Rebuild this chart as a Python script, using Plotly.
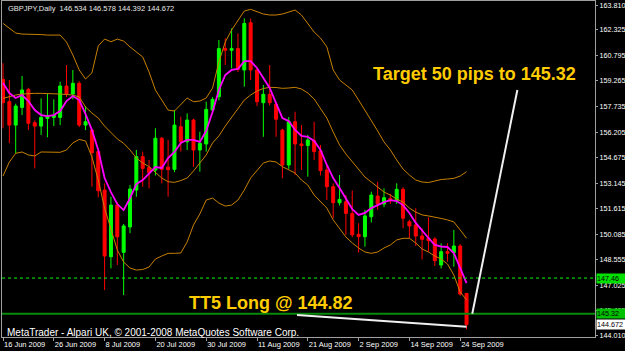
import plotly.graph_objects as go
import pandas as pd

# ---------------- data ----------------
dates = [d for d in pd.bdate_range("2009-06-16", "2009-09-25")]
open_ = [159.36, 158.02, 156.62, 157.68, 158.76, 156.76, 156.56, 157.02, 157.08, 157.08,
         158.96, 158.48, 159.12, 156.62, 156.32, 155.03, 152.73, 148.74, 151.83, 149.00,
         150.52, 152.73, 154.73, 154.07, 153.93, 155.83, 154.10, 153.97, 156.52, 155.62,
         156.92, 155.13, 155.49, 157.52, 158.32, 161.20, 161.10, 161.20, 159.92, 162.75,
         159.92, 157.96, 158.46, 157.86, 156.32, 154.23, 156.82, 155.49, 155.39, 155.68,
         155.08, 153.93, 152.93, 151.97, 152.03, 151.33, 150.08, 149.94, 151.13, 152.37,
         151.89, 152.23, 152.09, 152.77, 150.83, 150.64, 149.98, 149.84, 149.80, 148.24,
         149.04, 148.98, 149.38, 146.534]
high = [160.32, 159.32, 157.90, 159.56, 158.85, 156.90, 158.22, 158.48, 158.16, 159.22,
        160.22, 159.92, 159.25, 157.76, 156.40, 155.10, 153.13, 152.33, 152.00, 150.70,
        153.03, 155.13, 155.03, 154.53, 156.43, 155.90, 155.73, 157.52, 157.12, 157.32,
        157.00, 156.22, 158.02, 158.30, 161.71, 161.82, 162.41, 162.11, 163.01, 163.00,
        160.00, 159.02, 160.22, 158.00, 156.40, 157.10, 157.42, 156.62, 156.03, 156.82,
        155.43, 154.20, 153.13, 153.63, 152.43, 152.70, 150.74, 151.54, 152.63, 153.23,
        152.83, 152.50, 153.13, 152.90, 150.95, 151.64, 150.44, 151.10, 149.90, 149.54,
        149.54, 150.34, 149.50, 146.578]
low = [156.43, 155.53, 154.93, 157.22, 156.32, 154.03, 156.03, 155.89, 156.56, 156.62,
       158.30, 158.16, 156.50, 156.32, 152.93, 152.30, 146.74, 148.04, 148.24, 146.44,
       150.15, 152.33, 152.93, 152.83, 153.60, 153.13, 152.33, 153.80, 155.03, 155.13,
       154.13, 153.83, 155.03, 157.30, 158.10, 160.22, 160.02, 159.80, 158.92, 159.32,
       157.76, 155.92, 157.80, 155.92, 153.43, 154.00, 153.63, 153.93, 153.53, 154.53,
       153.60, 152.13, 151.04, 151.80, 150.05, 149.90, 148.98, 149.34, 150.79, 151.54,
       151.70, 151.90, 151.90, 150.44, 149.84, 149.38, 148.58, 149.04, 148.18, 148.04,
       148.44, 148.14, 146.40, 144.392]
close = [157.96, 156.62, 157.76, 158.72, 156.73, 156.56, 157.08, 157.18, 157.22, 158.96,
         158.48, 159.12, 156.62, 156.82, 154.97, 152.69, 148.78, 151.83, 149.93, 150.58,
         152.79, 154.73, 154.03, 153.77, 155.83, 153.97, 153.95, 156.62, 155.62, 156.92,
         155.13, 155.53, 157.56, 158.16, 161.20, 161.10, 161.20, 159.96, 162.71, 159.92,
         158.02, 158.46, 157.96, 156.97, 154.23, 156.82, 155.49, 155.39, 155.73, 155.03,
         153.89, 152.93, 151.97, 152.17, 151.33, 150.05, 149.94, 151.18, 152.43, 151.89,
         152.27, 152.09, 152.77, 151.04, 150.58, 149.98, 149.78, 149.70, 148.50, 149.04,
         148.94, 149.38, 146.50, 144.672]
bb_upper = [162.71, 162.43, 162.13, 162.07, 162.07, 162.04, 162.04, 162.01, 162.01, 162.01,
            161.59, 160.82, 159.92, 159.38, 159.74, 161.36, 161.77, 161.61, 161.77, 161.65,
            161.30, 161.00, 160.70, 159.80, 158.72, 158.12, 157.52, 157.46, 157.88, 158.24,
            158.02, 158.06, 158.24, 158.84, 160.40, 161.59, 162.31, 162.91, 163.45, 163.55,
            163.39, 163.27, 163.21, 163.21, 163.27, 163.41, 163.51, 163.21, 162.73, 162.19,
            161.83, 161.30, 159.92, 159.32, 159.02, 158.72, 158.12, 157.52, 156.92, 156.27,
            155.61, 155.13, 154.53, 153.99, 153.63, 153.33, 153.21, 153.18, 153.27, 153.36,
            153.39, 153.43, 153.57, 153.83]
bb_middle = [158.22, 158.33, 158.42, 158.48, 158.51, 158.52, 158.52, 158.52, 158.51, 158.48,
             158.45, 158.42, 158.30, 157.70, 157.34, 157.04, 156.56, 156.15, 155.79, 155.53,
             155.13, 154.65, 154.35, 154.13, 153.81, 153.45, 153.23, 153.19, 153.30, 153.45,
             153.87, 154.35, 154.83, 155.55, 155.97, 156.56, 157.10, 157.64, 158.12, 158.42,
             158.66, 158.81, 158.88, 158.87, 158.82, 158.84, 158.88, 158.78, 158.54, 158.18,
             157.64, 157.04, 156.20, 155.43, 154.89, 154.41, 153.93, 153.51, 153.21, 152.91,
             152.61, 152.43, 152.19, 152.01, 151.65, 151.41, 151.24, 151.18, 151.12, 151.03,
             150.94, 150.82, 150.34, 149.84]
bb_lower = [153.57, 154.41, 154.93, 155.01, 154.83, 154.77, 155.01, 155.01, 154.99, 154.99,
            155.13, 155.55, 155.76, 155.67, 154.71, 153.33, 151.65, 150.34, 149.14, 148.42,
            148.06, 147.94, 147.97, 148.12, 148.60, 148.78, 148.94, 148.94, 148.96, 149.62,
            150.64, 151.30, 152.13, 152.25, 151.95, 151.77, 151.83, 152.13, 152.73, 153.45,
            153.93, 154.35, 154.47, 154.41, 154.13, 153.93, 153.75, 153.33, 153.03, 152.43,
            152.07, 151.65, 150.94, 150.46, 149.92, 149.56, 149.26, 149.02, 148.94, 149.02,
            149.26, 149.44, 149.74, 149.84, 149.84, 149.56, 149.20, 149.02, 148.78, 148.60,
            148.30, 147.64, 146.62, 146.15]
ma_fast = [159.14, 158.54, 158.24, 158.42, 158.06, 157.52, 157.22, 157.16, 157.22, 157.46,
           158.06, 158.36, 158.12, 157.28, 156.33, 155.13, 153.45, 152.61, 151.89, 151.53,
           152.25, 153.09, 153.33, 153.69, 154.11, 154.05, 154.65, 155.01, 155.55, 155.73,
           155.73, 155.61, 156.27, 157.40, 158.72, 159.62, 159.92, 159.98, 160.45, 160.45,
           160.04, 159.44, 158.84, 157.94, 157.04, 156.86, 156.33, 155.97, 155.91, 155.67,
           155.13, 154.23, 153.45, 152.85, 152.19, 151.59, 151.24, 151.36, 151.65, 151.83,
           152.01, 152.13, 152.07, 151.83, 151.36, 150.76, 150.28, 149.86, 149.44, 149.35,
           149.32, 148.96, 148.06, 147.16]

tick_idx = [0, 8, 16, 24, 32, 40, 48, 56, 64, 72]
y_ticks = [163.810, 162.325, 160.795, 159.265, 157.735, 156.205, 154.675, 153.145,
           151.615, 150.085, 148.555, 147.025, 145.495, 144.010]

entry_level = 147.46
target_level = 145.32
last_price = 144.672
target_line = ([73.9, 81.0], [145.32, 158.72])
low_line = ([46.3, 73.0], [145.25, 144.55])

symbol_text = "GBPJPY,Daily  146.534 146.578 144.392 144.672"
copyright_text = "MetaTrader - Alpari UK, \u00a9 2001-2008 MetaQuotes Software Corp."
target_text = "Target 50 pips to 145.32"
entry_text = "TT5 Long @ 144.82"

# ---------------- figure ----------------
W, H = 625, 351
PL, PR, PT, PB = 2, 595, 1, 337     # plot area in pixels
BAR = 6.35                          # pixels per bar
Y_TOP, Y_BOT = 164.05, 143.93


def px(xp):
    return (xp - PL) / (PR - PL)


def py(yp):
    return (PB - yp) / (PB - PT)


xs = list(range(len(dates)))
FONT = "Liberation Sans, Arial, sans-serif"
BAND = "#C88000"

fig = go.Figure()
fig.add_trace(go.Candlestick(
    x=xs, open=open_, high=high, low=low, close=close,
    increasing=dict(line=dict(color="#00FF00", width=1), fillcolor="#00FF00"),
    decreasing=dict(line=dict(color="#FF0000", width=1), fillcolor="#FF0000"),
    whiskerwidth=0, showlegend=False, hoverinfo="skip"))
for band in (bb_upper, bb_middle, bb_lower):
    fig.add_trace(go.Scatter(x=xs, y=band, mode="lines",
                             line=dict(color=BAND, width=1), showlegend=False,
                             hoverinfo="skip"))
fig.add_trace(go.Scatter(x=xs, y=ma_fast, mode="lines",
                         line=dict(color="#FF00FF", width=1.8), showlegend=False,
                         hoverinfo="skip"))

shapes = [
    dict(type="line", xref="paper", x0=0, x1=1, yref="y", y0=entry_level, y1=entry_level,
         line=dict(color="#00FF00", width=1, dash="dot")),
    dict(type="line", xref="paper", x0=0, x1=1, yref="y", y0=target_level, y1=target_level,
         line=dict(color="#0A8A0A", width=2)),
    dict(type="line", xref="x", yref="y", x0=target_line[0][0], x1=target_line[0][1],
         y0=target_line[1][0], y1=target_line[1][1], line=dict(color="#F0F0F0", width=2)),
    dict(type="line", xref="x", yref="y", x0=low_line[0][0], x1=low_line[0][1],
         y0=low_line[1][0], y1=low_line[1][1], line=dict(color="#F0F0F0", width=2)),
]

annotations = [
    dict(text=symbol_text, xref="paper", yref="paper", x=px(6), y=py(8),
         xanchor="left", yanchor="middle", showarrow=False,
         font=dict(family=FONT, size=7.5, color="#E8E8E8")),
    dict(text=copyright_text, xref="paper", yref="paper", x=px(5), y=py(332),
         xanchor="left", yanchor="middle", showarrow=False,
         font=dict(family=FONT, size=10, color="#FFFFFF")),
    dict(text="<b>" + target_text + "</b>", xref="paper", yref="paper", x=px(474), y=py(74),
         xanchor="center", yanchor="middle", showarrow=False,
         font=dict(family=FONT, size=18, color="#FFCC00")),
    dict(text="<b>" + entry_text + "</b>", xref="paper", yref="paper", x=px(271), y=py(303),
         xanchor="center", yanchor="middle", showarrow=False,
         font=dict(family=FONT, size=18, color="#FFCC00")),
]
for lvl, txt, bg in [(entry_level, "147.46", "#00E000"),
                     (target_level, "145.32", "#00C000"),
                     (last_price, "144.672", "#FFFFFF")]:
    annotations.append(dict(text=txt, xref="paper", yref="y", x=1, y=lvl, xshift=1,
                            xanchor="left", yanchor="middle", showarrow=False,
                            align="left", width=28, bgcolor=bg, borderpad=0,
                            font=dict(family=FONT, size=7.2, color="#000000")))

fig.update_layout(
    width=W, height=H,
    margin=dict(l=PL, r=W - PR, t=PT, b=H - PB, autoexpand=False),
    paper_bgcolor="#000000", plot_bgcolor="#000000",
    showlegend=False, shapes=shapes, annotations=annotations,
    boxgap=0.33,
    xaxis=dict(range=[(PL - 3) / BAR, (PR - 3) / BAR], showgrid=False, zeroline=False,
               automargin=False,
               tickvals=[xs[i] for i in tick_idx],
               ticktext=[f"{dates[i].day} {dates[i].strftime('%b %Y')}" for i in tick_idx],
               tickangle=0,
               ticks="outside", ticklen=3, tickcolor="#A0A0A0",
               ticklabelposition="outside right",
               tickfont=dict(family=FONT, size=7.5, color="#FFFFFF"),
               showline=True, linecolor="#A0A0A0", linewidth=1, mirror=True,
               rangeslider=dict(visible=False), fixedrange=True),
    yaxis=dict(range=[Y_BOT, Y_TOP], side="right", automargin=False,
               showgrid=False, zeroline=False,
               tickvals=y_ticks, tickformat=".3f",
               ticks="outside", ticklen=2, tickcolor="#A0A0A0",
               tickfont=dict(family=FONT, size=7.2, color="#FFFFFF"),
               showline=True, linecolor="#A0A0A0", linewidth=1, mirror=True,
               fixedrange=True),
)

fig.write_html("out.html", config={"displayModeBar": False})
